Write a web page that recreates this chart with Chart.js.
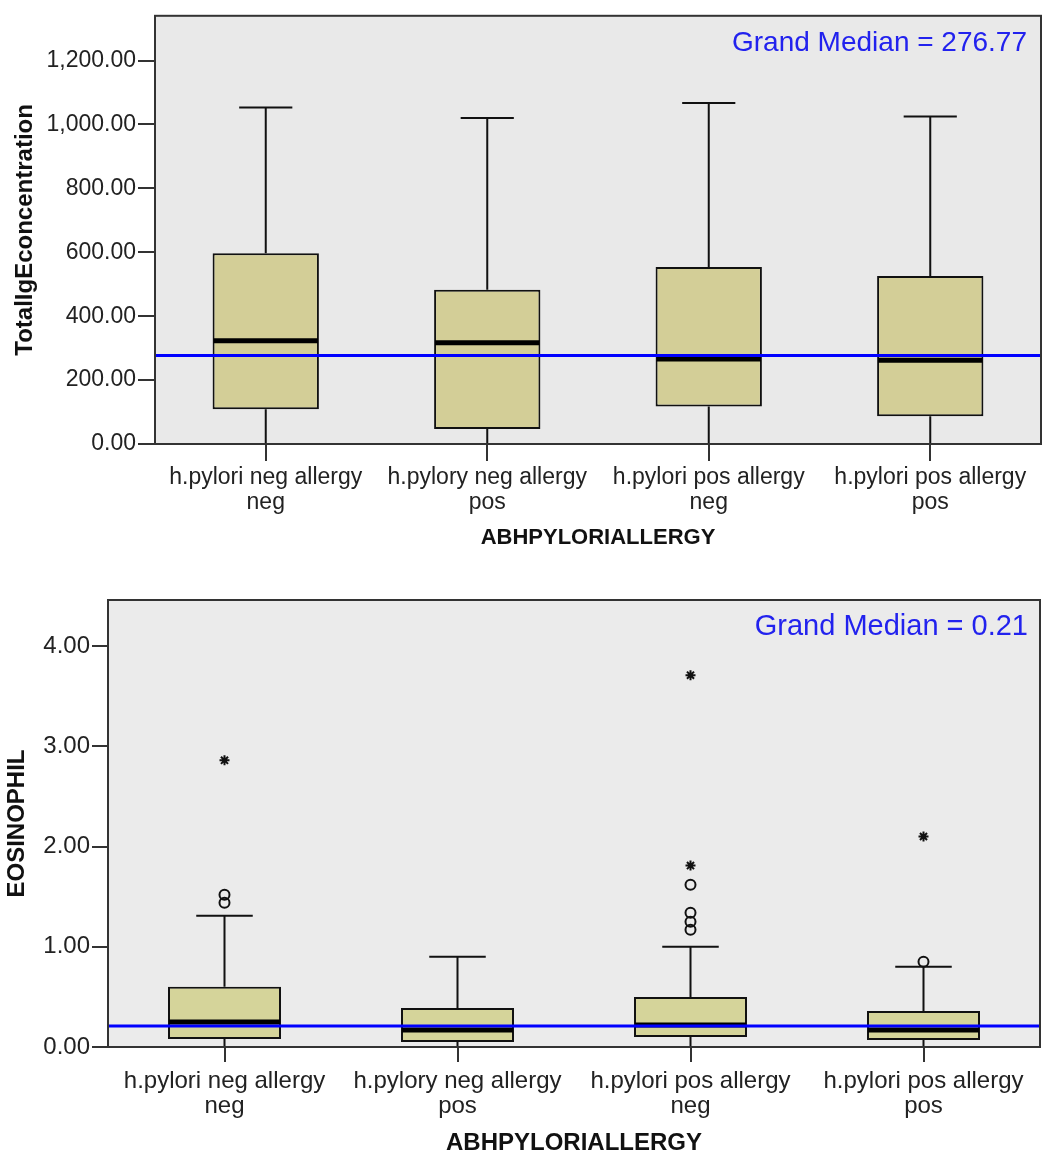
<!DOCTYPE html>
<html>
<head>
<meta charset="utf-8">
<script src="https://cdn.jsdelivr.net/npm/chart.js@4.4.1/dist/chart.umd.min.js"></script>
<style>
  body { margin: 0; background: #fff; }
  .wrap { position: absolute; left: 0; width: 1042px; }
  #topWrap { top: 0; height: 560px; }
  #bottomWrap { top: 580px; height: 576px; }
</style>
</head>
<body>
<div class="wrap" id="topWrap"><canvas id="igeChart"></canvas></div>
<div class="wrap" id="bottomWrap"><canvas id="eosChart"></canvas></div>
<script>
'use strict'

// Groups (x axis)
const categories = ['h.pylori neg allergy neg', 'h.pylory neg allergy pos', 'h.pylori pos allergy neg', 'h.pylori pos allergy pos']
const tickLines = [['h.pylori neg allergy', 'neg'], ['h.pylory neg allergy', 'pos'], ['h.pylori pos allergy', 'neg'], ['h.pylori pos allergy', 'pos']]

// Total IgE concentration
const igeMin = [0, 0, 0, 0]
const igeQ1 = [109, 47, 117, 87]
const igeMedian = [323, 317, 266, 262]
const igeQ3 = [597, 483, 554, 526]
const igeMax = [1053, 1020, 1067, 1025]
const igeGrandMedian = 276.77

// Eosinophil
const eosMin = [0, 0, 0, 0]
const eosQ1 = [0.08, 0.05, 0.10, 0.07]
const eosMedian = [0.25, 0.17, 0.22, 0.17]
const eosQ3 = [0.60, 0.39, 0.50, 0.36]
const eosMax = [1.31, 0.90, 1.00, 0.80]
const eosOutliers = [[1.52, 1.44], [], [1.62, 1.34, 1.25, 1.17], [0.85]]
const eosExtremes = [[2.86], [], [3.71, 1.81], [2.10]]
const eosGrandMedian = 0.21

Chart.defaults.font.family = 'Arial, "Liberation Sans", sans-serif'
Chart.defaults.animation = false

function toPoints(groups) {
    let pts = []
    groups.forEach((vals, i) => {
        vals.forEach(v => pts.push({x: categories[i], y: v}))
    })
    return pts
}

// whiskers, medians, grand median line, frame
function boxPlugin(s) {
    return {
        id: 'boxParts',
        beforeDraw(chart) {
            const {ctx, chartArea: a} = chart
            ctx.save()
            ctx.fillStyle = s.plotBg
            ctx.fillRect(a.left, a.top, a.right - a.left, a.bottom - a.top)
            ctx.restore()
        },
        afterDatasetsDraw(chart) {
            const {ctx, chartArea: a, scales} = chart
            const y = scales.y
            const bars = chart.getDatasetMeta(0).data
            ctx.save()
            bars.forEach((bar, i) => {
                const cx = bar.x
                const w = bar.width
                const yMax = y.getPixelForValue(s.max[i])
                const yMin = y.getPixelForValue(s.min[i])
                ctx.strokeStyle = '#111'
                ctx.lineWidth = 2
                ctx.beginPath()
                ctx.moveTo(cx, yMax)
                ctx.lineTo(cx, y.getPixelForValue(s.q3[i]))
                ctx.moveTo(cx, y.getPixelForValue(s.q1[i]))
                ctx.lineTo(cx, yMin)
                ctx.moveTo(cx - w / 4, yMax)
                ctx.lineTo(cx + w / 4, yMax)
                ctx.moveTo(cx - w / 4, yMin)
                ctx.lineTo(cx + w / 4, yMin)
                ctx.stroke()

                const ym = y.getPixelForValue(s.median[i])
                ctx.strokeStyle = '#000'
                ctx.lineWidth = 5
                ctx.beginPath()
                ctx.moveTo(cx - w / 2 + 1, ym)
                ctx.lineTo(cx + w / 2 - 1, ym)
                ctx.stroke()
            })

            const yg = y.getPixelForValue(s.grand)
            ctx.strokeStyle = '#0000ff'
            ctx.lineWidth = 3
            ctx.beginPath()
            ctx.moveTo(a.left, yg)
            ctx.lineTo(a.right, yg)
            ctx.stroke()

            ctx.strokeStyle = '#333'
            ctx.lineWidth = 2
            ctx.strokeRect(a.left, a.top, a.right - a.left, a.bottom - a.top)

            ctx.fillStyle = '#2222ee'
            ctx.font = s.textFont
            ctx.textAlign = 'right'
            ctx.textBaseline = 'middle'
            ctx.fillText(s.text, a.right - s.textRight, a.top + 27)
            ctx.restore()
        }
    }
}

function scaleSet(o) {
    return {
        x: {
            grid: {offset: false, drawOnChartArea: false, tickLength: o.xTick, color: '#333', lineWidth: 2},
            border: {display: false},
            ticks: {color: '#222', font: {size: o.xFont, lineHeight: 1.05}, padding: o.xPad, maxRotation: 0, autoSkip: false,
                callback: (v, i) => tickLines[i]},
            title: {display: true, text: 'ABHPYLORIALLERGY', color: '#111', font: {size: o.xTitle, weight: 'bold'},
                padding: {top: 0, bottom: o.xTitlePad}},
            afterFit: s => {
                s.height = o.xHeight
                s.paddingLeft = 0
                s.paddingRight = 0
            }
        },
        y: {
            min: 0,
            max: o.yMax,
            grid: {drawOnChartArea: false, tickLength: o.yTick, color: '#333', lineWidth: 2},
            border: {display: false},
            ticks: {stepSize: o.step, includeBounds: false, color: '#222', font: {size: o.yFont}, padding: 2,
                callback: v => v.toLocaleString('en-US', {minimumFractionDigits: 2, maximumFractionDigits: 2})},
            title: {display: true, text: o.yLabel, color: '#111', font: {size: 24, weight: 'bold'},
                padding: {top: o.yTitlePad, bottom: 0}},
            afterFit: s => { s.width = o.yWidth }
        }
    }
}

// Top: IgE
let igeChart = new Chart(document.getElementById('igeChart'), {
    type: 'bar',
    data: {
        labels: categories,
        datasets: [{
            data: igeQ1.map((v, i) => [v, igeQ3[i]]),
            backgroundColor: '#d3ce97',
            borderColor: '#111',
            borderWidth: 2,
            borderSkipped: false,
            barPercentage: 0.48,
            categoryPercentage: 1
        }]
    },
    options: {
        responsive: true,
        maintainAspectRatio: false,
        layout: {padding: {top: 15, right: 1, left: 0, bottom: 0}},
        plugins: {legend: {display: false}, tooltip: {enabled: false}},
        scales: scaleSet({xTick: 17, xFont: 23, xPad: 5, xTitle: 22, xTitlePad: 9, xHeight: 116,
            yMax: 1340, yTick: 17, step: 200, yFont: 23, yLabel: 'TotalIgEconcentration', yTitlePad: 11, yWidth: 155})
    },
    plugins: [boxPlugin({min: igeMin, q1: igeQ1, median: igeMedian, q3: igeQ3, max: igeMax, grand: igeGrandMedian,
        plotBg: '#e9e9e9', text: 'Grand Median = 276.77', textFont: '28px Arial, "Liberation Sans", sans-serif', textRight: 14})]
})

// Bottom: Eosinophil
let eosChart = new Chart(document.getElementById('eosChart'), {
    type: 'bar',
    data: {
        labels: categories,
        datasets: [{
            data: eosQ1.map((v, i) => [v, eosQ3[i]]),
            backgroundColor: '#d5d49a',
            borderColor: '#111',
            borderWidth: 2,
            borderSkipped: false,
            barPercentage: 0.485,
            categoryPercentage: 1
        }, {
            type: 'line',
            data: toPoints(eosOutliers),
            showLine: false,
            pointStyle: 'circle',
            pointRadius: 5,
            pointBorderWidth: 2,
            pointBorderColor: '#111',
            pointBackgroundColor: 'rgba(0,0,0,0)'
        }, {
            type: 'line',
            data: toPoints(eosExtremes),
            showLine: false,
            pointStyle: 'star',
            pointRadius: 5,
            pointBorderWidth: 2,
            pointBorderColor: '#111',
            pointBackgroundColor: '#111'
        }]
    },
    options: {
        responsive: true,
        maintainAspectRatio: false,
        layout: {autoPadding: false, padding: {top: 20, right: 2, left: 0, bottom: 0}},
        plugins: {legend: {display: false}, tooltip: {enabled: false}},
        scales: scaleSet({xTick: 15, xFont: 24, xPad: 7, xTitle: 24, xTitlePad: -2, xHeight: 109,
            yMax: 4.46, yTick: 16, step: 1, yFont: 24, yLabel: 'EOSINOPHIL', yTitlePad: 3, yWidth: 108})
    },
    plugins: [boxPlugin({min: eosMin, q1: eosQ1, median: eosMedian, q3: eosQ3, max: eosMax, grand: eosGrandMedian,
        plotBg: '#ebebeb', text: 'Grand Median = 0.21', textFont: '29px Arial, "Liberation Sans", sans-serif', textRight: 12})]
})
</script>
</body>
</html>
